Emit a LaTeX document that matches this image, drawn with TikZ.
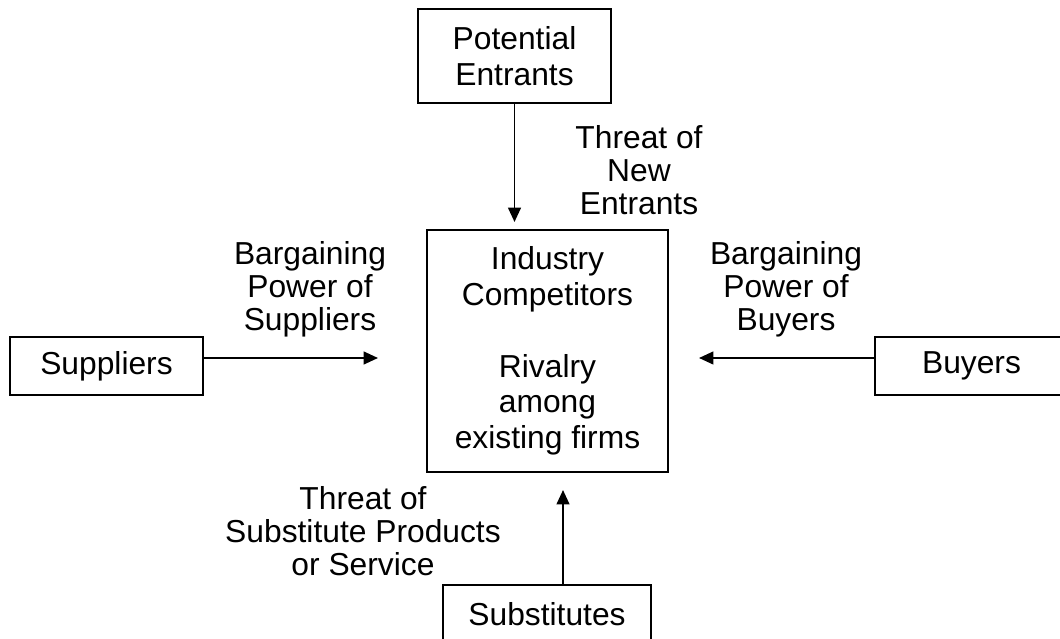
\documentclass[tikz,border=0pt]{standalone}
\usepackage{fontspec}
\setmainfont{Liberation Sans}
\usetikzlibrary{arrows.meta}
\begin{document}
\begin{tikzpicture}[>={Triangle[length=3.6mm,width=3.2mm]}, color=black, line width=1.4pt,
	box/.style={draw, align=center, inner sep=0pt, font=\fontsize{22.6}{25.5}\selectfont},
	lbl/.style={align=center, inner sep=0pt, font=\fontsize{22.6}{23.4}\selectfont}]
		\useasboundingbox (0,0) rectangle (26.5,-15.975);
		% the five forces
		\node[box, minimum width=4.825cm, minimum height=2.35cm] (entrants) at (12.8625,-1.4) {Potential\\Entrants};
		\node[box, minimum width=6.025cm, minimum height=6.05cm] (industry) at (13.6875,-8.775) {Industry\\Competitors\\[25.5pt]Rivalry\\among\\existing firms};
		\node[box, minimum width=4.825cm, minimum height=1.45cm] (suppliers) at (2.6625,-9.15) {Suppliers};
		\node[box, minimum width=4.825cm, minimum height=1.45cm] (buyers) at (24.2875,-9.15) {Buyers};
		\node[box, minimum width=5.2cm, minimum height=1.45cm] (substitutes) at (13.675,-15.35) {Substitutes};
		% arrow ends
		\coordinate (ein) at (12.8625,-5.55);
		\coordinate (sin) at (9.45,-8.95);
		\coordinate (bin) at (17.475,-8.95);
		\coordinate (subin) at (14.075,-12.25);
		\draw[->] (entrants) -- (ein);
		\draw[->] (suppliers.east |- sin) -- (sin);
		\draw[->] (buyers.west |- bin) -- (bin);
		\draw[->] (substitutes.north -| subin) -- (subin);
		% labels
		\node[lbl] (threatnew) at (15.975,-4.25) {Threat of\\New\\Entrants};
		\node[lbl] (powersup) at (7.75,-7.225) {Bargaining\\Power of\\Suppliers};
		\node[lbl] (powerbuy) at (19.65,-7.225) {Bargaining\\Power of\\Buyers};
		\node[lbl] (threatsub) at (9.075,-13.275) {Threat of\\Substitute Products\\or Service};
\end{tikzpicture}
\end{document}
